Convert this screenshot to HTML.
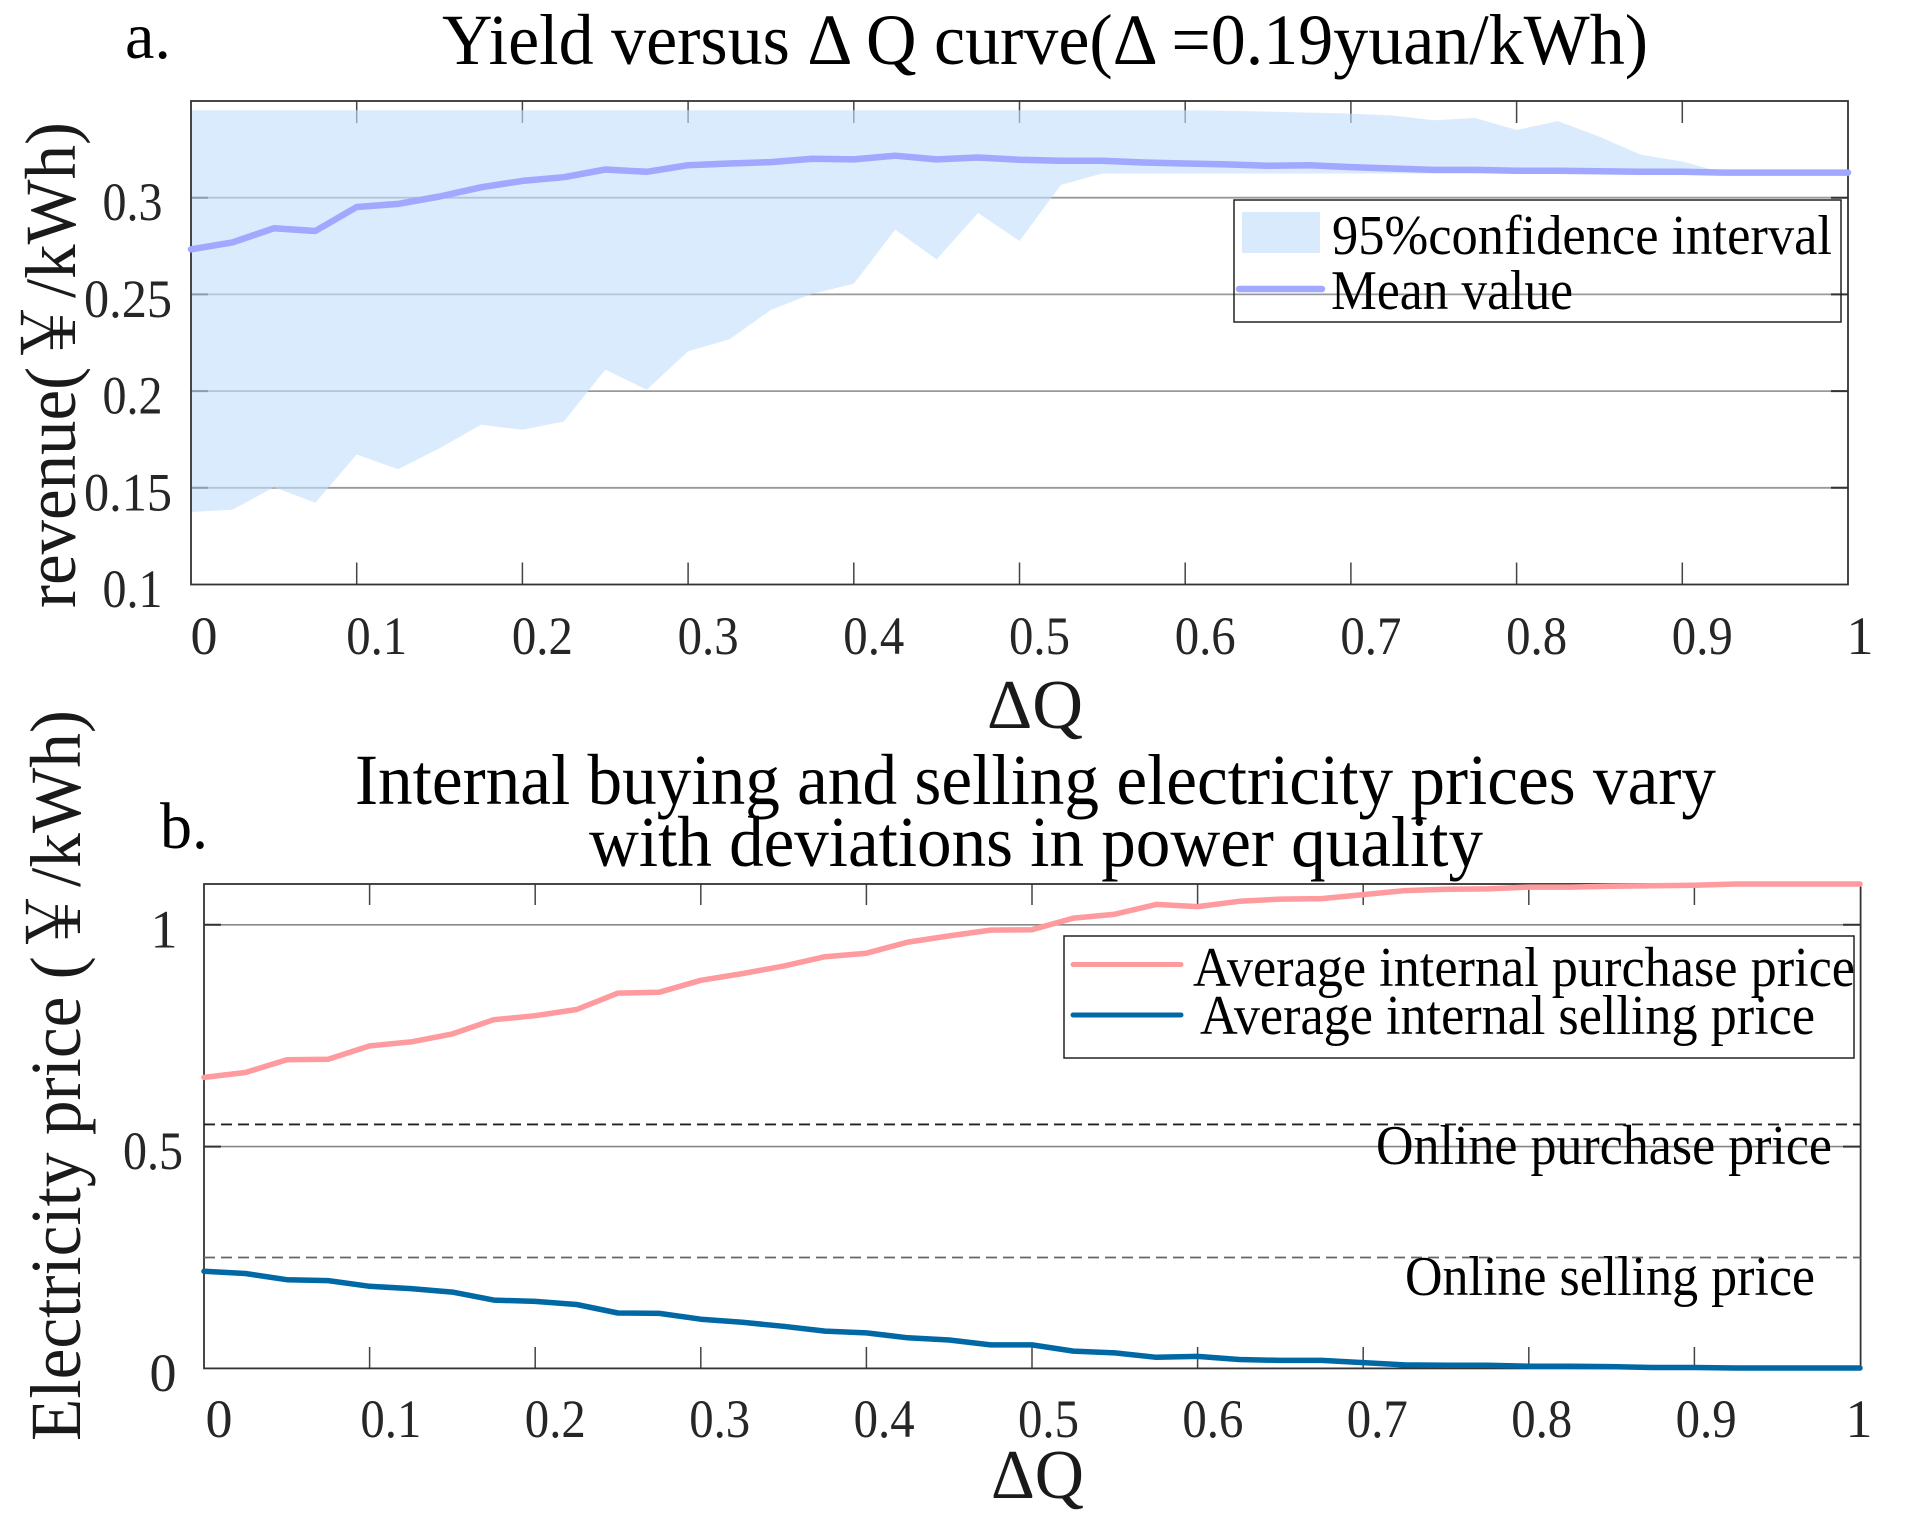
<!DOCTYPE html>
<html lang="en">
<head>
<meta charset="utf-8">
<title>Yield and electricity price versus ΔQ</title>
<style>
html,body{margin:0;padding:0;background:#fff;}
svg{display:block;}
text{font-family:"Liberation Serif","Noto Serif CJK SC",serif;fill:#000;}
.tick{fill:#262626;font-size:54px;}
.leg{font-size:56px;}
.title{font-size:72px;}
.ylab{font-size:72px;fill:#1a1a1a;}
.xlab{font-size:70px;fill:#1a1a1a;}
.panel{font-size:66px;}
</style>
</head>
<body>
<svg id="fig" xmlns="http://www.w3.org/2000/svg" width="1910" height="1539" viewBox="0 0 1910 1539">
  <rect x="0" y="0" width="1910" height="1539" fill="#fff"/>
  <g id="panelA"></g>
  <g id="panelB"></g>

  <text class="panel" x="125" y="58" textLength="46" lengthAdjust="spacingAndGlyphs">a.</text>
  <text class="title" x="442" y="64" textLength="1206" lengthAdjust="spacingAndGlyphs">Yield versus Δ Q curve(Δ =0.19yuan/kWh)</text>
  <text class="ylab" transform="translate(75 608) rotate(-90)" x="0" y="0" textLength="486" lengthAdjust="spacingAndGlyphs">revenue(￥/kWh)</text>
  <text class="xlab" x="987" y="728" textLength="96" lengthAdjust="spacingAndGlyphs">ΔQ</text>

  <g>
    <rect x="1234" y="200" width="607" height="122" fill="none" stroke="#222" stroke-width="1.5"/>
    <rect x="1242" y="212" width="78" height="41" fill="#d9eafd"/>
    <line x1="1239" y1="289" x2="1322" y2="289" stroke="#a0a8ff" stroke-width="6.5" stroke-linecap="round"/>
    <text class="leg" x="1332" y="254" textLength="500" lengthAdjust="spacingAndGlyphs">95%confidence interval</text>
    <text class="leg" x="1331" y="309" textLength="242" lengthAdjust="spacingAndGlyphs">Mean value</text>
  </g>

  <text class="panel" x="160" y="848" textLength="48" lengthAdjust="spacingAndGlyphs">b.</text>
  <text class="title" x="355" y="804" textLength="1361" lengthAdjust="spacingAndGlyphs">Internal buying and selling electricity prices vary</text>
  <text class="title" x="589" y="866" textLength="894" lengthAdjust="spacingAndGlyphs">with deviations in power quality</text>
  <text class="ylab" transform="translate(80 1441) rotate(-90)" x="0" y="0" textLength="731" lengthAdjust="spacingAndGlyphs">Electricity price (￥/kWh)</text>
  <text class="xlab" x="991" y="1498" textLength="93" lengthAdjust="spacingAndGlyphs">ΔQ</text>

  <g>
    <rect x="1064" y="936" width="790" height="122" fill="none" stroke="#222" stroke-width="1.5"/>
    <line x1="1073" y1="964.5" x2="1181" y2="964.5" stroke="#ff9a9e" stroke-width="5" stroke-linecap="round"/>
    <line x1="1073" y1="1015" x2="1181" y2="1015" stroke="#0069a5" stroke-width="5" stroke-linecap="round"/>
    <text class="leg" x="1193" y="986" textLength="662" lengthAdjust="spacingAndGlyphs">Average internal purchase price</text>
    <text class="leg" x="1200" y="1034" textLength="615" lengthAdjust="spacingAndGlyphs">Average internal selling price</text>
  </g>
  <text class="leg" x="1376" y="1164" textLength="456" lengthAdjust="spacingAndGlyphs">Online purchase price</text>
  <text class="leg" x="1405" y="1295" textLength="410" lengthAdjust="spacingAndGlyphs">Online selling price</text>
</svg>
<script>
const deltaQ = [0,0.025,0.05,0.075,0.1,0.125,0.15,0.175,0.2,0.225,0.25,0.275,0.3,0.325,0.35,0.375,0.4,0.425,0.45,0.475,0.5,0.525,0.55,0.575,0.6,0.625,0.65,0.675,0.7,0.725,0.75,0.775,0.8,0.825,0.85,0.875,0.9,0.925,0.95,0.975,1];

const meanRevenue = [0.2733,0.2769,0.2842,0.2828,0.2952,0.2968,0.3006,0.3054,0.3087,0.3106,0.3146,0.3134,0.3168,0.3177,0.3184,0.3201,0.3198,0.3217,0.3198,0.3208,0.3196,0.3191,0.3191,0.3182,0.3177,0.3172,0.3165,0.3168,0.3158,0.3151,0.3144,0.3144,0.3139,0.3139,0.3137,0.3134,0.3134,0.3130,0.3130,0.3130,0.3130];
const upperRevenue = [0.3452,0.3452,0.3452,0.3452,0.3452,0.3452,0.3452,0.3452,0.3452,0.3452,0.3452,0.3452,0.3452,0.3452,0.3452,0.3452,0.3452,0.3452,0.3452,0.3452,0.3452,0.3452,0.3452,0.3452,0.3452,0.3450,0.3445,0.3440,0.3435,0.3425,0.3400,0.3412,0.3350,0.3396,0.3315,0.3222,0.3187,0.3130,0.3130,0.3130,0.3130];
const lowerRevenue = [0.1375,0.1387,0.1503,0.1423,0.1672,0.1596,0.1705,0.1826,0.1800,0.1843,0.2111,0.2007,0.2206,0.2268,0.2420,0.2503,0.2555,0.2835,0.2681,0.2921,0.2776,0.3066,0.3125,0.3125,0.3125,0.3125,0.3125,0.3125,0.3125,0.3125,0.3125,0.3125,0.3125,0.3125,0.3125,0.3125,0.3125,0.3130,0.3130,0.3130,0.3130];

const purchasePrice = [0.656,0.667,0.696,0.697,0.727,0.736,0.754,0.786,0.795,0.809,0.846,0.848,0.875,0.890,0.907,0.928,0.936,0.961,0.975,0.988,0.989,1.015,1.024,1.046,1.041,1.053,1.058,1.059,1.068,1.077,1.080,1.081,1.085,1.085,1.087,1.088,1.089,1.092,1.092,1.092,1.092];
const sellingPrice = [0.219,0.214,0.200,0.198,0.185,0.180,0.172,0.154,0.151,0.144,0.125,0.124,0.111,0.104,0.095,0.084,0.080,0.069,0.064,0.053,0.053,0.039,0.035,0.025,0.027,0.020,0.018,0.018,0.013,0.008,0.007,0.007,0.005,0.005,0.004,0.002,0.002,0.001,0.001,0.001,0.001];
const onlinePurchase = [0.55];
const onlineSelling = [0.25];

const xTickValues = [0,0.1,0.2,0.3,0.4,0.5,0.6,0.7,0.8,0.9,1];
const xTickLabels = ['0','0.1','0.2','0.3','0.4','0.5','0.6','0.7','0.8','0.9','1'];
const yTicksA = [0.1,0.15,0.2,0.25,0.3];
const yTickLabelsA = ['0.1','0.15','0.2','0.25','0.3'];
const yTicksB = [0,0.5,1];
const yTickLabelsB = ['0','0.5','1'];

const NS = 'http://www.w3.org/2000/svg';
const gA = document.getElementById('panelA');
const gB = document.getElementById('panelB');

function xA(v){return 191 + v * 1657;}
function yA(v){return 584.5 - (v - 0.1) * 1934;}
function xB(v){return 204 + v * 1656;}
function yB(v){return 1368.4 - v * 443.6;}

function drawLine(parent,x1,y1,x2,y2,color,width,dash,name){
  const el = document.createElementNS(NS,'line');
  el.setAttribute('x1',x1);
  el.setAttribute('y1',y1);
  el.setAttribute('x2',x2);
  el.setAttribute('y2',y2);
  el.setAttribute('stroke',color);
  el.setAttribute('stroke-width',width);
  if(dash){el.setAttribute('stroke-dasharray',dash);}
  
  
  parent.appendChild(el);
}
function drawLabel(parent,str,x,y,len,name){
  const el = document.createElementNS(NS,'text');
  el.setAttribute('class','tick');
  el.setAttribute('x',x - len / 2);
  el.setAttribute('y',y);
  el.setAttribute('textLength',len);
  el.setAttribute('lengthAdjust','spacingAndGlyphs');
  el.textContent = str;
  
  
  parent.appendChild(el);
}
function drawPolyline(parent,xs,ys,fx,fy,color,width,name){
  const el = document.createElementNS(NS,'polyline');
  el.setAttribute('points',xs.map(function(x,i){return fx(x).toFixed(1)+','+fy(ys[i]).toFixed(1);}).join(' '));
  el.setAttribute('fill','none');
  el.setAttribute('stroke',color);
  el.setAttribute('stroke-width',width);
  el.setAttribute('stroke-linejoin','round');
  el.setAttribute('stroke-linecap','round');
  
  
  parent.appendChild(el);
}
function drawBox(parent,l,t,r,b,name){
  const el = document.createElementNS(NS,'rect');
  el.setAttribute('x',l);
  el.setAttribute('y',t);
  el.setAttribute('width',r - l);
  el.setAttribute('height',b - t);
  el.setAttribute('fill','none');
  el.setAttribute('stroke','#333');
  el.setAttribute('stroke-width',1.8);
  
  
  parent.appendChild(el);
}

/* Panel a */
yTicksA.forEach(function(v,i){
  if(v > 0.1){
    drawLine(gA,191,yA(v),1848,yA(v),'#999',1.8,null,'panel-a-gridline');
    drawLine(gA,1831,yA(v),1848,yA(v),'#333',2,null,'panel-a-right-tick');
    drawLine(gA,191,yA(v),208,yA(v),'#333',2,null,'panel-a-left-tick');
  }
  const wide = yTickLabelsA[i].length > 3;
  drawLabel(gA,yTickLabelsA[i],wide ? 128 : 132.5,yA(v) + 22.5,wide ? 88 : 60,'panel-a-y-tick-label');
});
xTickValues.forEach(function(v,i){
  if(v > 0 && v < 1){
    drawLine(gA,xA(v),101,xA(v),123,'#444',1.5,null,'panel-a-top-tick');
    drawLine(gA,xA(v),562.5,xA(v),584.5,'#444',1.5,null,'panel-a-bottom-tick');
  }
  const narrow = xTickLabels[i].length === 1;
  drawLabel(gA,xTickLabels[i],xA(v) + (narrow ? (v === 0 ? 13 : 12) : 20),654,narrow ? 27 : 61,'panel-a-x-tick-label');
});
const band = document.createElementNS(NS,'polygon');
const upperPts = deltaQ.map(function(x,i){return xA(x).toFixed(1)+','+yA(upperRevenue[i]).toFixed(1);});
const lowerPts = deltaQ.map(function(x,i){return xA(x).toFixed(1)+','+yA(lowerRevenue[i]).toFixed(1);}).reverse();
band.setAttribute('points',upperPts.concat(lowerPts).join(' '));
band.setAttribute('fill','#c4dffd');
band.setAttribute('fill-opacity','0.62');


gA.appendChild(band);
drawBox(gA,191,101,1848,584.5,'panel-a-axes-box');
drawPolyline(gA,deltaQ,meanRevenue,xA,yA,'#a0a8ff',6.5,'mean-revenue-line');

/* Panel b */
yTicksB.forEach(function(v,i){
  if(v > 0){
    drawLine(gB,204,yB(v),1860.6,yB(v),'#888',1.6,null,'panel-b-gridline');
    drawLine(gB,1843,yB(v),1860.6,yB(v),'#333',2,null,'panel-b-right-tick');
    drawLine(gB,204,yB(v),221,yB(v),'#333',2,null,'panel-b-left-tick');
  }
  const centre = yTickLabelsB[i].length > 1 ? 153 : (v === 0 ? 163 : 164);
  const len = yTickLabelsB[i].length > 1 ? 60 : 27;
  drawLabel(gB,yTickLabelsB[i],centre,yB(v) + 22.5,len,'panel-b-y-tick-label');
});
xTickValues.forEach(function(v,i){
  if(v > 0 && v < 1){
    drawLine(gB,xB(v),884,xB(v),905,'#444',1.5,null,'panel-b-top-tick');
    drawLine(gB,xB(v),1347,xB(v),1368.4,'#444',1.5,null,'panel-b-bottom-tick');
  }
  const narrow = xTickLabels[i].length === 1;
  const off = narrow ? (v === 0 ? 15 : -1) : 22.5 - 12 * v;
  drawLabel(gB,xTickLabels[i],xB(v) + off,1437,narrow ? 27 : 61,'panel-b-x-tick-label');
});
drawBox(gB,204,884,1860.6,1368.4,'panel-b-axes-box');
drawLine(gB,204,yB(onlinePurchase[0]),1860.6,yB(onlinePurchase[0]),'#222',1.8,'11 6','online-purchase-price-line');
drawLine(gB,204,yB(onlineSelling[0]),1860.6,yB(onlineSelling[0]),'#666',1.8,'11 6','online-selling-price-line');
drawPolyline(gB,deltaQ,purchasePrice,xB,yB,'#ff9a9e',5.5,'average-purchase-price-line');
drawPolyline(gB,deltaQ,sellingPrice,xB,yB,'#0069a5',5.5,'average-selling-price-line');
</script>
</body>
</html>
